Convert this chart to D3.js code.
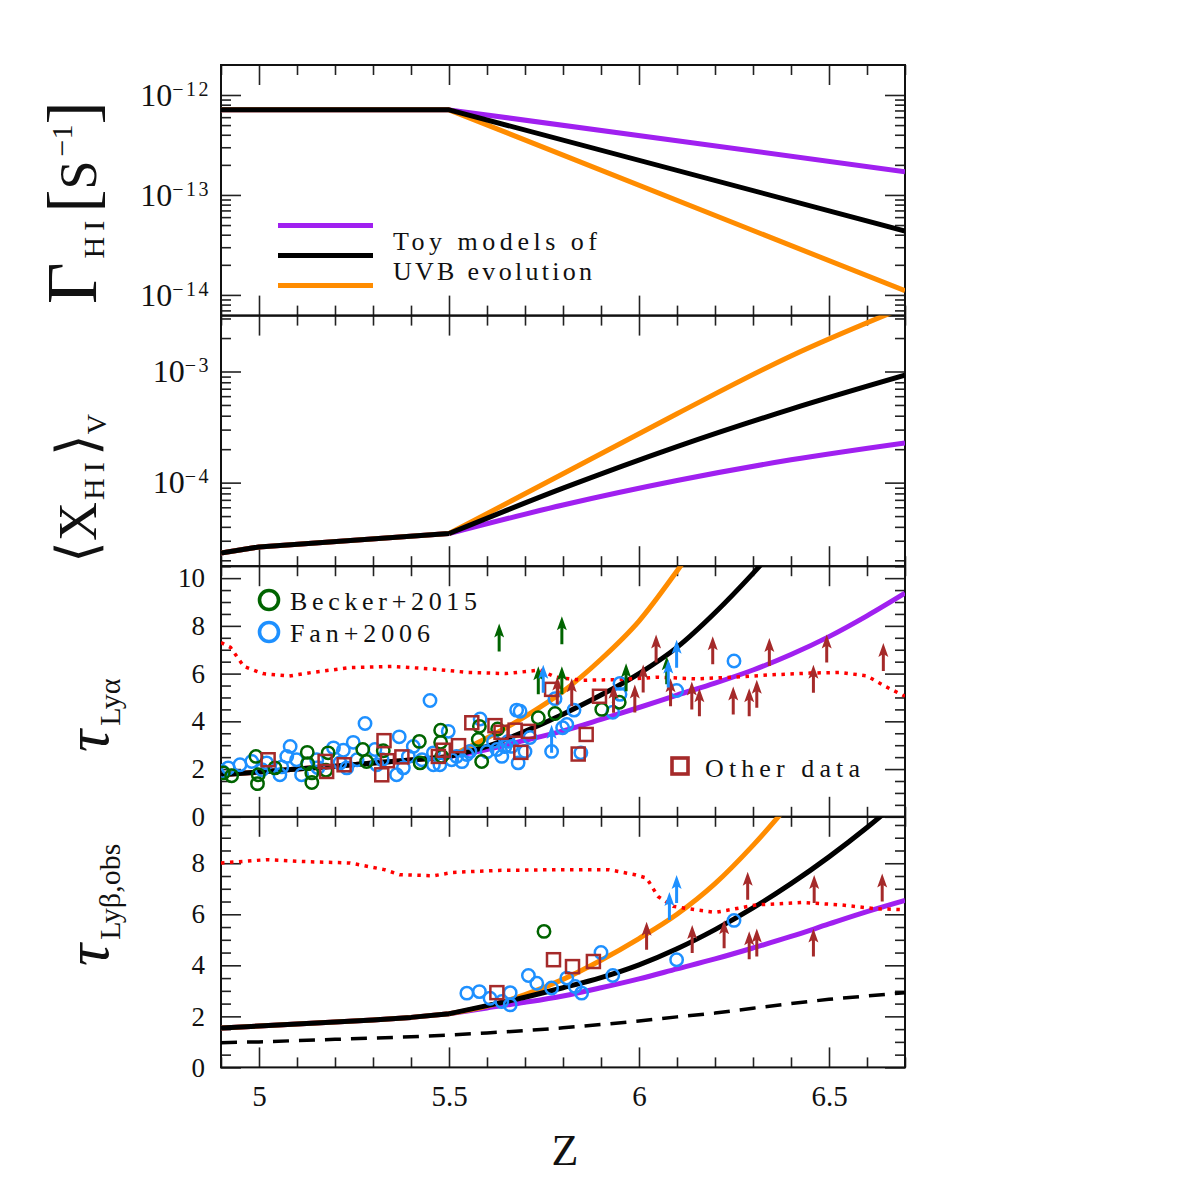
<!DOCTYPE html>
<html>
<head>
<meta charset="utf-8">
<script src="https://cdn.jsdelivr.net/npm/d3@7"></script>
<style>
  body { margin: 0; background: #fff; }
  text { font-family: "Liberation Serif", "DejaVu Serif", serif; fill: #111; }
</style>
</head>
<body>
<svg id="chart" width="1196" height="1196"></svg>
<script>

// x axis (redshift)
const zMajor = [5, 5.5, 6, 6.5]
const zMinor = [4.9, 5.1, 5.2, 5.3, 5.4, 5.6, 5.7, 5.8, 5.9, 6.1, 6.2, 6.3, 6.4, 6.6, 6.7]

// panel 1 - photoionisation rate toy models
const gammaZ = [4.9, 5.5, 6.7]
const gammaPurple = [7.1e-13, 7.1e-13, 1.71e-13]
const gammaBlack = [7.1e-13, 7.1e-13, 4.36e-14]
const gammaOrange = [7.1e-13, 7.1e-13, 1.10e-14]

// panel 2 - volume weighted neutral fraction
const xhiZ = [4.9, 5.0, 5.5, 5.8, 6.1, 6.4, 6.7]
const xhiPurple = [2.33e-5, 2.64e-5, 3.48e-5, 6.29e-5, 1.045e-4, 1.605e-4, 2.28e-4]
const xhiBlack = [2.33e-5, 2.64e-5, 3.48e-5, 8.91e-5, 2.11e-4, 4.59e-4, 9.27e-4]
const xhiOrange = [2.33e-5, 2.64e-5, 3.48e-5, 1.20e-4, 4.17e-4, 1.38e-3, 3.80e-3]

// panels 3 + 4 model curves share this z grid
const tauZ = [4.9, 5.0, 5.1, 5.2, 5.3, 5.4, 5.5, 5.6, 5.7, 5.8, 5.9, 6.0, 6.1, 6.2, 6.3, 6.4, 6.5, 6.6, 6.7]
const tauAPurple = [1.76, 1.88, 2.0, 2.12, 2.25, 2.38, 2.52, 2.82, 3.2, 3.6, 4.08, 4.58, 5.1, 5.6, 6.15, 6.8, 7.55, 8.42, 9.37]
const tauABlack = [1.76, 1.88, 2.0, 2.12, 2.25, 2.38, 2.52, 2.95, 3.58, 4.3, 5.1, 6.0, 7.1, 8.55, 10.2, 12.0, null, null, null]
const tauAOrange = [1.76, 1.88, 2.0, 2.12, 2.25, 2.38, 2.52, 3.3, 4.2, 5.25, 6.6, 8.2, 10.3, 12.6, null, null, null, null, null]

const tauBPurple = [1.54, 1.62, 1.70, 1.78, 1.86, 1.96, 2.10, 2.33, 2.55, 2.8, 3.12, 3.47, 3.86, 4.25, 4.68, 5.13, 5.62, 6.1, 6.54]
const tauBBlack = [1.54, 1.62, 1.70, 1.78, 1.86, 1.96, 2.10, 2.42, 2.75, 3.12, 3.52, 4.02, 4.65, 5.4, 6.25, 7.2, 8.25, 9.4, 10.65]
const tauBOrange = [1.54, 1.62, 1.70, 1.78, 1.86, 1.96, 2.10, 2.4, 2.85, 3.45, 4.2, 5.05, 6.0, 7.2, 8.7, 10.4, null, null, null]
const tauBDashed = [0.97, 1.0, 1.05, 1.1, 1.15, 1.2, 1.27, 1.35, 1.44, 1.55, 1.68, 1.82, 1.98, 2.13, 2.32, 2.5, 2.67, 2.8, 2.93]

// red dotted curves
const redZA = [4.9, 4.925, 4.96, 5.01, 5.08, 5.14, 5.24, 5.35, 5.45, 5.55, 5.65, 5.74, 5.78, 5.85, 5.95, 6.05, 6.15, 6.25, 6.35, 6.45, 6.53, 6.6, 6.65, 6.7]
const redTauA = [7.3, 7.1, 6.3, 6.0, 5.9, 6.05, 6.25, 6.3, 6.2, 6.05, 6.0, 6.15, 5.85, 5.72, 5.75, 5.85, 5.78, 5.85, 5.95, 6.02, 6.05, 5.9, 5.45, 5.05]
const redZB = [4.9, 5.02, 5.11, 5.24, 5.33, 5.37, 5.46, 5.51, 5.63, 5.79, 5.92, 5.99, 6.02, 6.05, 6.09, 6.13, 6.2, 6.31, 6.43, 6.53, 6.62, 6.7]
const redTauB = [8.01, 8.14, 8.07, 8.01, 7.75, 7.55, 7.51, 7.64, 7.72, 7.75, 7.75, 7.55, 7.42, 6.70, 6.31, 6.22, 6.07, 6.37, 6.46, 6.37, 6.22, 6.18]

// panel 3 observations [z, tau]
const beckerA = [[4.906,1.84],[4.928,1.72],[4.992,2.53],[4.998,1.76],[4.996,1.39],[5.042,2.05],[5.127,2.70],[5.128,2.23],[5.139,1.84],[5.139,1.44],[5.182,2.68],[5.176,1.95],[5.273,2.82],[5.283,2.32],[5.327,2.77],[5.422,3.16],[5.424,2.26],[5.478,3.63],[5.478,3.12],[5.481,2.53],[5.580,3.79],[5.577,3.24],[5.586,2.32],[5.628,3.68],[5.735,4.15],[5.779,4.33],[5.902,4.50],[5.948,4.80]]
const fanA = [[4.903,1.90],[4.919,2.05],[4.950,2.18],[4.981,2.32],[5.008,1.97],[5.020,2.26],[5.060,2.09],[5.055,1.76],[5.082,2.95],[5.073,2.53],[5.099,2.39],[5.112,1.76],[5.152,2.39],[5.155,2.06],[5.196,2.89],[5.222,2.79],[5.248,3.12],[5.231,2.05],[5.213,2.26],[5.258,2.39],[5.279,3.91],[5.305,2.82],[5.310,2.18],[5.324,2.39],[5.369,3.35],[5.362,1.76],[5.380,2.05],[5.393,2.53],[5.406,2.95],[5.429,2.39],[5.450,4.87],[5.459,2.68],[5.459,2.18],[5.476,2.18],[5.498,3.58],[5.507,2.39],[5.520,2.53],[5.534,2.31],[5.547,2.61],[5.555,2.74],[5.582,4.10],[5.600,2.73],[5.617,3.16],[5.626,2.82],[5.639,2.53],[5.647,2.94],[5.656,3.16],[5.665,2.95],[5.678,4.47],[5.682,2.26],[5.687,4.42],[5.700,2.74],[5.713,3.32],[5.770,2.74],[5.779,4.95],[5.799,3.73],[5.810,3.87],[5.829,4.47],[5.847,2.68],[5.931,4.38],[5.950,5.59],[5.950,5.13],[6.099,5.29],[6.250,6.53]]
const otherA = [[5.024,2.39],[5.174,2.32],[5.178,1.90],[5.224,2.18],[5.329,3.19],[5.323,1.76],[5.338,2.35],[5.376,2.51],[5.472,2.53],[5.485,2.79],[5.525,2.98],[5.560,3.94],[5.621,3.82],[5.637,3.54],[5.674,3.63],[5.709,3.58],[5.689,2.70],[5.770,5.34],[5.896,5.05],[5.861,3.45],[5.840,2.63]]
// lower limits (arrows up)
const beckerALim = [[5.632,6.93],[5.797,7.23],[5.735,5.13],[5.797,5.13],[5.966,5.26],[6.073,5.55]]
const fanALim = [[5.748,5.20],[5.770,2.68],[6.099,6.25],[6.077,5.42]]
const otherALim = [[5.785,4.71],[5.823,4.63],[5.933,4.36],[5.989,4.37],[6.011,5.21],[6.045,6.47],[6.083,4.63],[6.139,4.50],[6.159,4.21],[6.194,6.39],[6.248,4.29],[6.290,4.21],[6.310,4.57],[6.343,6.32],[6.459,5.20],[6.494,6.46],[6.643,6.11]]

// panel 4 observations
const beckerB = [[5.750,5.33]]
const fanB = [[5.547,2.91],[5.580,2.97],[5.608,2.71],[5.639,2.58],[5.661,2.93],[5.661,2.45],[5.709,3.60],[5.731,3.30],[5.770,3.11],[5.810,3.50],[5.832,3.17],[5.849,2.91],[5.900,4.50],[5.931,3.60],[6.099,4.22],[6.250,5.76]]
const otherB = [[5.626,2.93],[5.775,4.22],[5.825,3.95],[5.880,4.15]]
const fanBLim = [[6.099,6.44],[6.080,5.78]]
const otherBLim = [[6.020,4.61],[6.140,4.48],[6.224,4.67],[6.286,6.57],[6.290,4.24],[6.310,4.35],[6.461,6.44],[6.459,4.35],[6.640,6.50]]

// y ticks for the linear panels
const tauMajor = [0, 2, 4, 6, 8, 10]

// colours
const cPurple = '#a020f0', cOrange = '#ff8c00', cBlack = '#000'
const cGreen = '#006400', cBlue = '#1e90ff', cBrown = '#a52a2a', cRed = '#ff0000'

// ---------- layout ----------
const svg = d3.select('#chart')
const left = 221, right = 905
const panelH = 250.6
const tops = [65, 65 + panelH, 65 + 2 * panelH, 65 + 3 * panelH, 65 + 4 * panelH]

const x = d3.scaleLinear().domain([4.9, 6.7]).range([left, right])

const yG = d3.scaleLog().domain([10 ** -14.207, 10 ** -11.7]).range([tops[1], tops[0]])
const yX = d3.scaleLog().domain([10 ** -4.752, 10 ** -2.497]).range([tops[2], tops[1]])
const yA = d3.scaleLinear().domain([0, 10.5]).range([tops[3], tops[2]])
const yB = d3.scaleLinear().domain([0, 9.82]).range([tops[4], tops[3]])

// log ticks: majors are the decades, minors 2..9
function logTicks(scale, major) {
  const [lo, hi] = scale.domain()
  let out = []
  for (let e = Math.floor(Math.log10(lo)); e <= Math.ceil(Math.log10(hi)); e++) {
    for (let m = 1; m < 10; m++) {
      const v = m * 10 ** e
      if (v >= lo && v <= hi && ((m === 1) === major)) out.push(v)
    }
  }
  return out
}

function halfTicks(scale) {
  const [lo, hi] = scale.domain()
  let out = []
  for (let v = lo; v <= hi + 1e-9; v += 0.5) if (Math.round(v * 2) % 4 !== 0) out.push(v)
  return out
}

function styleAxis(g) {
  g.select('.domain').remove()
  g.selectAll('.tick line').attr('stroke', '#222').attr('stroke-width', 1.6)
  g.attr('font-family', null).attr('font-size', null)
}

// draws frame + all four tick sets for one panel
function drawFrame(i, y, yMaj, yMin, yLabels, isLog) {
  const top = tops[i], bot = tops[i + 1]
  const g = svg.append('g')
  const none = () => ''

  // x ticks bottom + top
  g.append('g').attr('transform', `translate(0,${bot})`)
    .call(d3.axisBottom(x).tickValues(zMajor).tickSize(-20).tickPadding(18).tickFormat(i === 3 ? d3.format('') : none))
    .call(styleAxis)
    .call(a => a.selectAll('text').attr('font-size', 29))
  g.append('g').attr('transform', `translate(0,${bot})`)
    .call(d3.axisBottom(x).tickValues(zMinor).tickSize(-10).tickFormat(none)).call(styleAxis)
  g.append('g').attr('transform', `translate(0,${top})`)
    .call(d3.axisTop(x).tickValues(zMajor).tickSize(-20).tickFormat(none)).call(styleAxis)
  g.append('g').attr('transform', `translate(0,${top})`)
    .call(d3.axisTop(x).tickValues(zMinor).tickSize(-10).tickFormat(none)).call(styleAxis)

  // y ticks left + right
  const yl = g.append('g').attr('transform', `translate(${left},0)`)
    .call(d3.axisLeft(y).tickValues(yLabels).tickSize(-20).tickPadding(isLog ? 10 : 16).tickFormat(isLog ? none : d3.format('')))
    .call(styleAxis)
  yl.selectAll('text').attr('font-size', isLog ? 32 : 27)
  if (isLog) {
    yl.selectAll('.tick text').each(function(d) {
      const t = d3.select(this)
      t.text('10')
      t.append('tspan').attr('dy', -10).attr('font-size', 20).attr('letter-spacing', 2.5)
        .text('\u2212' + Math.round(-Math.log10(d)))
    })
  }
  g.append('g').attr('transform', `translate(${left},0)`)
    .call(d3.axisLeft(y).tickValues(yMin).tickSize(-10).tickFormat(none)).call(styleAxis)
  g.append('g').attr('transform', `translate(${right},0)`)
    .call(d3.axisRight(y).tickValues(yMaj).tickSize(-20).tickFormat(none)).call(styleAxis)
  g.append('g').attr('transform', `translate(${right},0)`)
    .call(d3.axisRight(y).tickValues(yMin).tickSize(-10).tickFormat(none)).call(styleAxis)

  g.append('rect').attr('x', left).attr('y', top).attr('width', right - left).attr('height', bot - top)
    .attr('fill', 'none').attr('stroke', '#111').attr('stroke-width', 2)

  // clip for the curves
  svg.append('clipPath').attr('id', 'clip' + i)
    .append('rect').attr('x', left).attr('y', top).attr('width', right - left).attr('height', bot - top)
  return svg.append('g').attr('clip-path', `url(#clip${i})`)
}

// curves: straight up to the z=5.5 break, smooth after it (keeps the kink sharp)
function curve(g, zs, vals, y, color, w, dash, smooth) {
  const pts = zs.map((z, k) => [z, vals[k]]).filter(d => d[1] != null)
  const lineFn = d3.line().x(d => x(d[0])).y(d => y(d[1]))
  const segs = smooth
    ? [[pts.filter(d => d[0] <= 5.5), d3.curveLinear], [pts.filter(d => d[0] >= 5.5), d3.curveMonotoneX]]
    : [[pts, d3.curveLinear]]
  const path = segs.map(([p, c]) => lineFn.curve(c)(p)).join('')
  g.append('path')
    .attr('fill', 'none').attr('stroke', color).attr('stroke-width', w)
    .attr('stroke-dasharray', dash || null)
    .attr('stroke-linejoin', 'round')
    .attr('d', path)
}

function circles(g, data, y, color) {
  g.selectAll(null).data(data).join('circle')
    .attr('cx', d => x(d[0])).attr('cy', d => y(d[1])).attr('r', 6.2)
    .attr('fill', 'none').attr('stroke', color).attr('stroke-width', 2.5)
}

function squares(g, data, y, color) {
  g.selectAll(null).data(data).join('rect')
    .attr('x', d => x(d[0]) - 6.5).attr('y', d => y(d[1]) - 6.5).attr('width', 13).attr('height', 13)
    .attr('fill', 'none').attr('stroke', color).attr('stroke-width', 2.5)
}

// lower limit arrows - base sits at the value
function arrows(g, data, y, color) {
  const a = g.selectAll(null).data(data).join('g')
    .attr('transform', d => `translate(${x(d[0])},${y(d[1])})`)
  a.append('line').attr('y1', 0).attr('y2', -18).attr('stroke', color).attr('stroke-width', 3)
  a.append('path').attr('d', 'M-5,-14 L0,-28 L5,-14 L0,-17 Z').attr('fill', color)
}

// ---------- panel 1 ----------
const p1 = drawFrame(0, yG, logTicks(yG, true), logTicks(yG, false), logTicks(yG, true), true)
curve(p1, gammaZ, gammaPurple, yG, cPurple, 5)
curve(p1, gammaZ, gammaOrange, yG, cOrange, 5)
curve(p1, gammaZ, gammaBlack, yG, cBlack, 5)

// legend for the toy models
const legG = svg.append('g')
;[[cPurple, 225.5], [cBlack, 255.5], [cOrange, 285.5]].forEach(([c, yy]) => {
  legG.append('line').attr('x1', 278).attr('x2', 373).attr('y1', yy).attr('y2', yy)
    .attr('stroke', c).attr('stroke-width', 5)
})
legG.append('text').attr('x', 393).attr('y', 250).attr('font-size', 26)
  .attr('textLength', 204).attr('lengthAdjust', 'spacing').text('Toy models of')
legG.append('text').attr('x', 393).attr('y', 280).attr('font-size', 26)
  .attr('textLength', 199).attr('lengthAdjust', 'spacing').text('UVB evolution')

// ---------- panel 2 ----------
const p2 = drawFrame(1, yX, logTicks(yX, true), logTicks(yX, false), logTicks(yX, true), true)
curve(p2, xhiZ, xhiPurple, yX, cPurple, 5, null, true)
curve(p2, xhiZ, xhiOrange, yX, cOrange, 5, null, true)
curve(p2, xhiZ, xhiBlack, yX, cBlack, 5, null, true)

// ---------- panel 3 ----------
const p3 = drawFrame(2, yA, tauMajor, halfTicks(yA), tauMajor, false)
curve(p3, tauZ, tauAPurple, yA, cPurple, 5, null, true)
curve(p3, tauZ, tauAOrange, yA, cOrange, 5, null, true)
curve(p3, tauZ, tauABlack, yA, cBlack, 5, null, true)
curve(p3, redZA, redTauA, yA, cRed, 3.5, '3.5 5.5')
circles(p3, fanA, yA, cBlue)
circles(p3, beckerA, yA, cGreen)
squares(p3, otherA, yA, cBrown)
arrows(p3, otherALim, yA, cBrown)
arrows(p3, beckerALim, yA, cGreen)
arrows(p3, fanALim, yA, cBlue)

const leg3 = svg.append('g')
leg3.append('circle').attr('cx', 269).attr('cy', 600).attr('r', 9.5)
  .attr('fill', 'none').attr('stroke', cGreen).attr('stroke-width', 3.6)
leg3.append('text').attr('x', 290).attr('y', 610).attr('font-size', 26)
  .attr('textLength', 187).attr('lengthAdjust', 'spacing').text('Becker+2015')
leg3.append('circle').attr('cx', 269).attr('cy', 632).attr('r', 9.5)
  .attr('fill', 'none').attr('stroke', cBlue).attr('stroke-width', 3.6)
leg3.append('text').attr('x', 290).attr('y', 642).attr('font-size', 26)
  .attr('textLength', 140).attr('lengthAdjust', 'spacing').text('Fan+2006')
leg3.append('rect').attr('x', 672).attr('y', 758).attr('width', 16).attr('height', 16)
  .attr('fill', 'none').attr('stroke', cBrown).attr('stroke-width', 3.6)
leg3.append('text').attr('x', 705).attr('y', 777).attr('font-size', 26)
  .attr('textLength', 155).attr('lengthAdjust', 'spacing').text('Other data')

// ---------- panel 4 ----------
const p4 = drawFrame(3, yB, tauMajor.filter(v => v < 9.82), halfTicks(yB), tauMajor.filter(v => v < 9.82), false)
curve(p4, tauZ, tauBDashed, yB, cBlack, 3.5, '16 10')
curve(p4, tauZ, tauBPurple, yB, cPurple, 5, null, true)
curve(p4, tauZ, tauBOrange, yB, cOrange, 5, null, true)
curve(p4, tauZ, tauBBlack, yB, cBlack, 5, null, true)
curve(p4, redZB, redTauB, yB, cRed, 3.5, '3.5 5.5')
circles(p4, fanB, yB, cBlue)
circles(p4, beckerB, yB, cGreen)
squares(p4, otherB, yB, cBrown)
arrows(p4, otherBLim, yB, cBrown)
arrows(p4, fanBLim, yB, cBlue)

// ---------- axis titles ----------
svg.append('text').attr('x', 565).attr('y', 1165).attr('text-anchor', 'middle')
  .attr('font-size', 44).text('Z')

// Gamma_HI [s^-1]
const t1 = svg.append('text').attr('transform', 'translate(96,304) rotate(-90)')
t1.append('tspan').attr('font-size', 72).text('\u0393')
t1.append('tspan').attr('font-size', 30).attr('dy', 8).attr('dx', 4).attr('letter-spacing', 6).text('HI')
t1.append('tspan').attr('font-size', 70).attr('dy', -8).attr('dx', 2).text('[')
t1.append('tspan').attr('font-size', 52).text('S')
t1.append('tspan').attr('font-size', 30).attr('dy', -24).attr('dx', 4).text('\u22121')
t1.append('tspan').attr('font-size', 70).attr('dy', 24).text(']')

// <x_HI>_V
const t2 = svg.append('text').attr('transform', 'translate(96,563) rotate(-90)')
t2.append('tspan').attr('font-size', 56).attr('font-family', 'DejaVu Sans').attr('font-weight', 200).text('\u27e8')
t2.append('tspan').attr('font-size', 54).text('X')
t2.append('tspan').attr('font-size', 30).attr('dy', 8).attr('dx', 2).attr('letter-spacing', 6).text('HI')
t2.append('tspan').attr('font-size', 56).attr('dy', -8).attr('font-family', 'DejaVu Sans').attr('font-weight', 200).text('\u27e9')
t2.append('tspan').attr('font-size', 28).attr('dy', 10).text('V')

// tau_Lya
const t3 = svg.append('text').attr('transform', 'translate(108,752) rotate(-90)')
t3.append('tspan').attr('font-size', 62).attr('font-style', 'italic').text('\u03c4')
t3.append('tspan').attr('font-size', 30).attr('dy', 12).attr('dx', 4).text('Ly\u03b1')

// tau_Lyb,obs
const t4 = svg.append('text').attr('transform', 'translate(108,966) rotate(-90)')
t4.append('tspan').attr('font-size', 62).attr('font-style', 'italic').text('\u03c4')
t4.append('tspan').attr('font-size', 30).attr('dy', 12).attr('dx', 4).text('Ly\u03b2,obs')
</script>
</body>
</html>
